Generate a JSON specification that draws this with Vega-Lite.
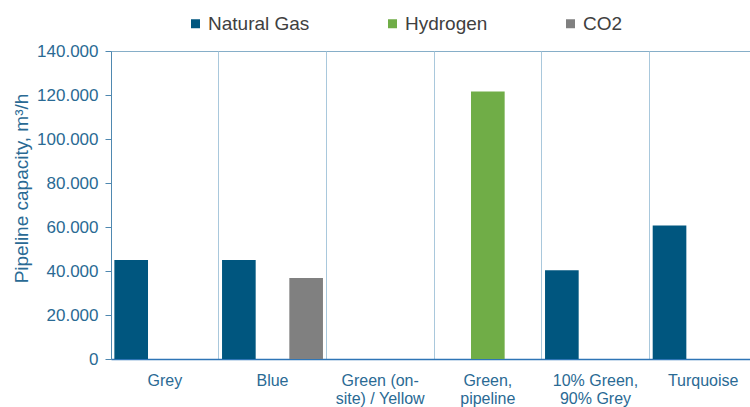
{
  "$schema": "https://vega.github.io/schema/vega-lite/v6.json",
  "autosize": {"type": "none"},
  "padding": {"left": 111, "top": 51, "right": 0, "bottom": 48},
  "width": 646,
  "height": 308,
  "background": "white",
  "data": {"values": [
    {"category": "Grey", "series": "Natural Gas", "value": 45000},
    {"category": "Blue", "series": "Natural Gas", "value": 45000},
    {"category": "Blue", "series": "CO2", "value": 36800},
    {"category": "Green, pipeline", "series": "Hydrogen", "value": 121600},
    {"category": "10% Green, 90% Grey", "series": "Natural Gas", "value": 40300},
    {"category": "Turquoise", "series": "Natural Gas", "value": 60700}
  ]},
  "mark": {"type": "bar"},
  "encoding": {
    "x": {
      "field": "category", "type": "nominal",
      "scale": {"domain": ["Grey", "Blue", "Green (on-site) / Yellow", "Green, pipeline", "10% Green, 90% Grey", "Turquoise"], "paddingInner": 0, "paddingOuter": 0},
      "axis": {
        "title": null, "labelAngle": 0, "ticks": false, "grid": true, "bandPosition": 0,
        "gridColor": "#a9c8dc", "gridWidth": 1, "labelOverlap": false,
        "domainColor": "#2e75b6", "domainWidth": 1.5,
        "labelColor": "#2a6a94", "labelFont": "Liberation Sans", "labelFontSize": 16,
        "labelPadding": 13, "labelLineHeight": 18,
        "labelExpr": "datum.label == 'Green (on-site) / Yellow' ? ['Green (on-', 'site) / Yellow'] : datum.label == 'Green, pipeline' ? ['Green,', 'pipeline'] : datum.label == '10% Green, 90% Grey' ? ['10% Green,', '90% Grey'] : datum.label"
      }
    },
    "xOffset": {
      "field": "series", "type": "nominal",
      "scale": {"domain": ["Natural Gas", "Hydrogen", "CO2"], "paddingInner": 0, "paddingOuter": 0.1}
    },
    "y": {
      "field": "value", "type": "quantitative",
      "scale": {"domain": [0, 140000], "nice": false},
      "axis": {
        "title": "Pipeline capacity, m³/h", "grid": false, "labelOverlap": false,
        "values": [0, 20000, 40000, 60000, 80000, 100000, 120000, 140000],
        "domainColor": "#4f88b0", "tickColor": "#4f88b0", "tickSize": 6,
        "labelColor": "#2a6a94", "labelFont": "Liberation Sans", "labelFontSize": 17, "labelPadding": 7,
        "labelExpr": "replace(format(datum.value, ','), ',', '.')",
        "titleColor": "#2a6a94", "titleFont": "Liberation Sans", "titleFontSize": 19, "titleFontWeight": "normal",
        "titleX": -90, "titleY": 137, "titleAngle": -90, "titleAlign": "center", "titleBaseline": "middle"
      }
    },
    "color": {
      "field": "series", "type": "nominal",
      "scale": {"domain": ["Natural Gas", "Hydrogen", "CO2"], "range": ["#00567f", "#70ad47", "#808080"]},
      "legend": {
        "title": null, "orient": "none", "direction": "horizontal", "legendX": 75, "legendY": -37,
        "symbolType": "square", "symbolSize": 81, "symbolStrokeWidth": 0,
        "labelFont": "Liberation Sans", "labelFontSize": 19, "labelColor": "#404040",
        "columnPadding": 73, "labelOffset": 3
      }
    }
  },
  "config": {"view": {"stroke": "#86aec8"}}
}
